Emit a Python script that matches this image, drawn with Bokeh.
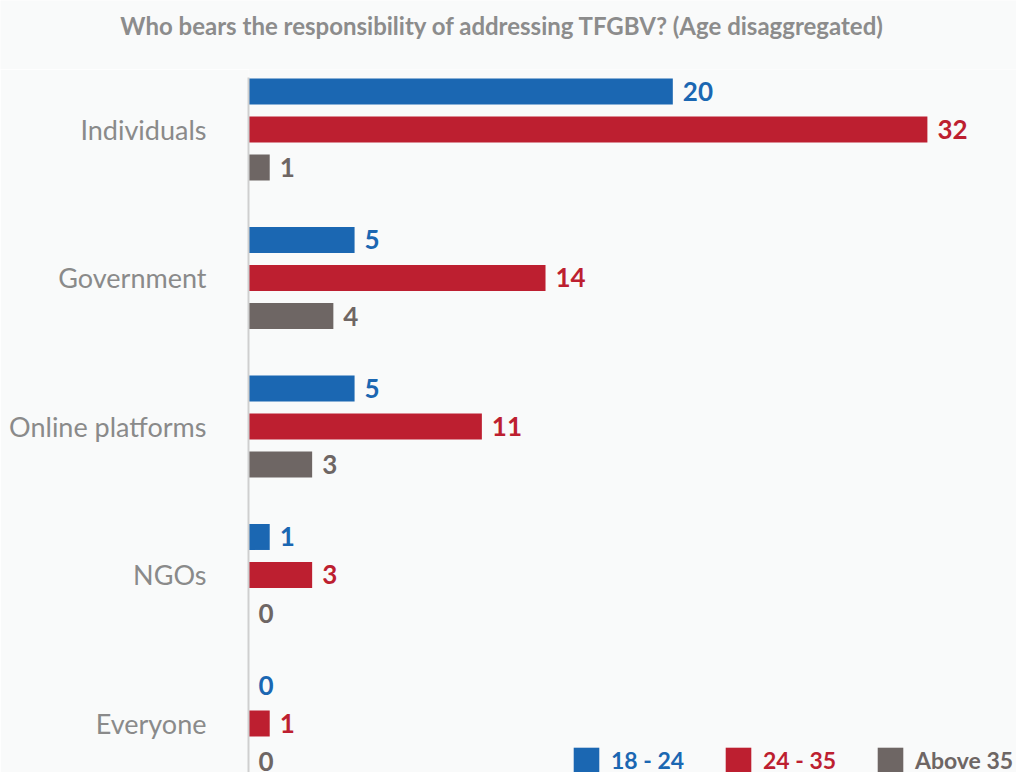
from bokeh.plotting import figure
from bokeh.layouts import column
from bokeh.models import ColumnDataSource, Range1d, FixedTicker, Legend, LegendItem, Label
from bokeh.transform import dodge
from bokeh.core.properties import value
from bokeh.embed import file_html
from bokeh.resources import INLINE

title_text = "Who bears the responsibility of addressing TFGBV? (Age disaggregated)"
categories = ["Individuals", "Government", "Online platforms", "NGOs", "Everyone"]
series_names = ["18 - 24", "24 - 35", "Above 35"]
age_18_24 = [20, 5, 5, 1, 0]
age_24_35 = [32, 14, 11, 3, 1]
above_35 = [1, 4, 3, 0, 0]

colors = ["#1b67b2", "#bd1f30", "#6e6664"]
offsets = [0.256, 0.0, -0.256]
FONT = "Lato"
BG = "#f9fafa"

n = len(categories)
ypos = [n - 1 - i for i in range(n)]

# Header strip holding the chart title (frame covers the whole strip, units = pixels)
head = figure(width=1016, height=69, output_backend="svg", toolbar_location=None,
              x_range=Range1d(0, 1016), y_range=Range1d(69, 0),
              x_axis_location=None, y_axis_location=None, min_border=0)
head.frame_align = False
head.background_fill_color = BG
head.border_fill_color = BG
head.outline_line_color = None
head.xgrid.visible = False
head.ygrid.visible = False
head.add_layout(Label(x=502, y=25, text=title_text, text_align="center",
                      text_baseline="middle", text_font=FONT, text_font_style="bold",
                      text_font_size="24px", text_color="#8c8c8c"))

p = figure(width=1016, height=703, output_backend="svg", toolbar_location=None,
           x_range=Range1d(0, 36.2), y_range=Range1d(-0.33, 4.404),
           x_axis_location=None, min_border_left=248, min_border_right=0,
           min_border_top=0, min_border_bottom=0)
p.frame_align = False
p.background_fill_color = BG
p.border_fill_color = BG
p.outline_line_color = None
p.xgrid.visible = False
p.ygrid.visible = False

renderers = []
for vals, col, off, name in zip([age_18_24, age_24_35, above_35], colors, offsets, series_names):
    src = ColumnDataSource(dict(y=ypos, v=vals, lbl=[str(v) for v in vals]))
    r = p.hbar(y=dodge("y", off), left=0, right="v", height=0.175, source=src,
               fill_color=col, line_color=None)
    renderers.append(r)
    p.text(x="v", y=dodge("y", off), text="lbl", source=src, x_offset=10,
           text_align="left", text_baseline="middle", text_color=col,
           text_font=value(FONT), text_font_style="bold", text_font_size="26px")

ax = p.yaxis[0]
ax.ticker = FixedTicker(ticks=ypos)
ax.bounds = (-0.33, 4.35)
ax.major_label_overrides = {y: c for y, c in zip(ypos, categories)}
ax.axis_line_color = "#cfcfcf"
ax.axis_line_width = 2
ax.major_tick_line_color = None
ax.minor_tick_line_color = None
ax.major_label_standoff = 36
ax.major_label_text_font = FONT
ax.major_label_text_font_size = "27px"
ax.major_label_text_color = "#8a8a8a"

for r, col, name, lx in zip(renderers, colors, series_names, [322, 474, 626]):
    lg = Legend(items=[LegendItem(label=name, renderers=[r])], location=(lx, -4),
                orientation="horizontal", glyph_width=32, glyph_height=32,
                label_standoff=9, padding=0, margin=0, spacing=0,
                border_line_color=None, background_fill_alpha=0,
                label_text_font=FONT, label_text_font_style="bold",
                label_text_font_size="23px", label_text_color=col)
    p.add_layout(lg, "center")

layout = column(head, p, spacing=0)
open("out.html", "w").write(file_html(layout, INLINE))
